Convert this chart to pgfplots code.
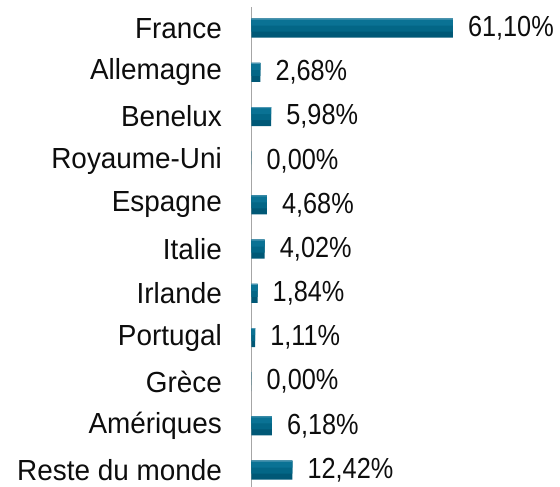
\documentclass[border=0pt]{standalone}
\usepackage{fontspec}
\setmainfont{Liberation Sans}[FakeStretch=0.96]
\newfontfamily\numfont{Liberation Sans}[FakeStretch=0.87]
\usepackage{pgfplots}
\pgfplotsset{compat=1.18}
\usetikzlibrary{calc}
\definecolor{barA}{HTML}{005876}
\definecolor{barB}{HTML}{036686}
\definecolor{barC}{HTML}{0A7294}
\definecolor{barD}{HTML}{4E97B3}
\definecolor{axgray}{HTML}{A6A6A6}
\newcommand{\lblfont}{\fontsize{29}{31}\selectfont}
\pgfplotstableread{
val pos lbl
61.10 0 61,10\%
2.68 1 2,68\%
5.98 2 5,98\%
0.00 3 0,00\%
4.68 4 4,68\%
4.02 5 4,02\%
1.84 6 1,84\%
1.11 7 1,11\%
0.00 8 0,00\%
6.18 9 6,18\%
12.42 10 12,42\%
}\geodata
\begin{document}
\begin{tikzpicture}
\begin{axis}[
    name=ax,
    xbar,
    scale only axis,
    width=201pt, height=479pt,
    xmin=0, xmax=61.1,
    ymin=-0.48, ymax=10.38,
    y dir=reverse,
    axis x line=none,
    axis y line*=left,
    y axis line style={axgray, line width=1.5pt, -},
    ytick={0,...,10},
    yticklabels={France, Allemagne, Benelux, Royaume-Uni, Espagne, Italie, Irlande, Portugal, Grèce, Amériques, Reste du monde},
    major tick length=0pt,
    yticklabel style={font=\lblfont, text=black!95, xshift=-26pt},
    clip=false,
]
% base bar plus lighter layers towards the top edge (gradient look)
\addplot[draw=none, fill=barA, bar width=19pt, bar shift=0pt,
    nodes near coords, point meta=explicit symbolic,
    every node near coord/.append style={font=\lblfont\numfont, text=black!95, anchor=west, inner sep=0pt, xshift=15pt}]
    table[x=val, y=pos, meta=lbl] {\geodata};
\addplot[draw=none, fill=barB, bar width=13pt, bar shift=3pt] table[x=val, y=pos] {\geodata};
\addplot[draw=none, fill=barC, bar width=7pt, bar shift=6pt] table[x=val, y=pos] {\geodata};
\addplot[draw=none, fill=barD, bar width=1pt, bar shift=9pt] table[x=val, y=pos] {\geodata};
\end{axis}
\pgfresetboundingbox
\path[use as bounding box] ($(ax.south west)+(-251pt,0pt)$) rectangle ($(ax.north east)+(107pt,7pt)$);
\end{tikzpicture}
\end{document}
